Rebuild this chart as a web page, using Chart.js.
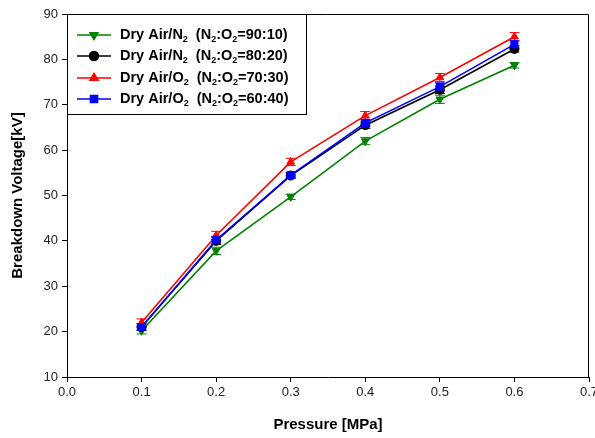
<!DOCTYPE html>
<html>
<head>
<meta charset="utf-8">
<script src="https://cdn.jsdelivr.net/npm/chart.js@4.4.1/dist/chart.umd.min.js"></script>
<style>
  html, body { margin:0; padding:0; background:#fff; }
  #wrap { width:595px; height:438px; position:relative; }
</style>
</head>
<body>
<div id="wrap"><canvas id="chart"></canvas></div>
<script>
  // Datos
  const pressure = [0.1, 0.2, 0.3, 0.4, 0.5, 0.6];
  const n2_90 = [20.2, 37.8, 49.7, 62.0, 71.2, 78.7];
  const n2_80 = [21.0, 40.0, 54.4, 65.5, 73.3, 82.3];
  const o2_70 = [22.0, 41.2, 57.4, 67.6, 76.0, 85.0];
  const o2_60 = [21.0, 40.2, 54.5, 66.0, 74.0, 83.3];
  const err_90 = [0.7, 0.8, 0.6, 0.8, 0.9, 0.6];
  const err_80 = [0.7, 0.8, 0.6, 0.7, 0.8, 0.7];
  const err_70 = [0.8, 0.9, 0.8, 0.9, 0.9, 0.9];
  const err_60 = [0.7, 0.8, 0.6, 0.8, 0.8, 0.8];
  const legendNames = [
    ['Dry Air/N', '(N', ':O', '=90:10)'],
    ['Dry Air/N', '(N', ':O', '=80:20)'],
    ['Dry Air/O', '(N', ':O', '=70:30)'],
    ['Dry Air/O', '(N', ':O', '=60:40)']
  ];

  const FONT = '"Liberation Sans", Arial, sans-serif';

  function serie(vals, errs, color, style, rot, order){
    return {
      data: pressure.map((x,i)=>({ x, y: vals[i] })),
      errs,
      borderColor: color,
      backgroundColor: color,
      borderWidth: 1.6,
      pointStyle: style,
      pointRotation: rot,
      pointRadius: style==='rect' ? 5 : 4.5,
      pointBorderWidth: 1,
      order
    };
  }

  const datasets = [
    serie(n2_90, err_90, '#008000', 'triangle', 180, 3),
    serie(n2_80, err_80, '#000000', 'circle', 0, 2),
    serie(o2_70, err_70, '#ff0000', 'triangle', 0, 1),
    serie(o2_60, err_60, '#0000ff', 'rect', 0, 0)
  ];

  // Barras de error
  const errorBars = {
    id:'errorBars',
    beforeDatasetsDraw(chart){
      const {ctx, scales:{x, y}} = chart;
      ctx.save();
      chart.data.datasets.forEach(ds=>{
        ctx.strokeStyle = ds.borderColor;
        ctx.lineWidth = 1;
        ds.data.forEach((p,i)=>{
          const px = x.getPixelForValue(p.x);
          const y1 = y.getPixelForValue(p.y + ds.errs[i]);
          const y2 = y.getPixelForValue(p.y - ds.errs[i]);
          ctx.beginPath();
          ctx.moveTo(px, y1); ctx.lineTo(px, y2);
          ctx.moveTo(px-5, y1); ctx.lineTo(px+5, y1);
          ctx.moveTo(px-5, y2); ctx.lineTo(px+5, y2);
          ctx.stroke();
        });
      });
      ctx.restore();
    }
  };

  // Marco y leyenda dentro del area
  const frameLegend = {
    id:'frameLegend',
    afterDraw(chart){
      const {ctx, chartArea:a} = chart;
      ctx.save();
      ctx.strokeStyle = '#000';
      ctx.lineWidth = 1;
      ctx.beginPath();
      ctx.moveTo(a.left, a.top+0.5); ctx.lineTo(a.right-0.5, a.top+0.5);
      ctx.lineTo(a.right-0.5, a.bottom);
      ctx.stroke();

      const bx = a.left, by = a.top, bw = 239, bh = 100;
      ctx.strokeRect(bx+0.5, by+0.5, bw, bh);

      const rows = [35, 56, 78, 99];
      chart.data.datasets.forEach((ds,i)=>{
        const cy = rows[i];
        ctx.strokeStyle = ds.borderColor;
        ctx.lineWidth = 1.6;
        ctx.beginPath(); ctx.moveTo(77, cy); ctx.lineTo(111, cy); ctx.stroke();
        ctx.fillStyle = ds.borderColor;
        Chart.helpers.drawPoint(ctx, {
          pointStyle: ds.pointStyle, rotation: ds.pointRotation,
          radius: ds.pointRadius, borderWidth: 1
        }, 94, cy);
        ctx.fill();

        const t = legendNames[i];
        ctx.fillStyle = '#000';
        ctx.textBaseline = 'middle';
        let x = 120;
        const big = 'bold 14.5px ' + FONT, sub = 'bold 9px ' + FONT;
        const put = (s, f, dy) => { ctx.font = f; ctx.fillText(s, x, cy + dy); x += ctx.measureText(s).width; };
        put(t[0], big, 0); put('2', sub, 5);
        x += 8;
        put(t[1], big, 0); put('2', sub, 5);
        put(t[2], big, 0); put('2', sub, 5);
        put(t[3], big, 0);
      });
      ctx.restore();
    }
  };

  new Chart(document.getElementById('chart'), {
    type:'line',
    data:{ datasets },
    options:{
      responsive:true,
      maintainAspectRatio:false,
      animation:false,
      layout:{ padding:{ top:14, right:0, left:0, bottom:0 } },
      plugins:{ legend:{ display:false }, tooltip:{ enabled:false } },
      scales:{
        x:{
          type:'linear', min:0, max:0.7,
          afterFit(s){ s.height = 61; s.paddingRight = 0; s.paddingLeft = 0; },
          grid:{ drawOnChartArea:false, drawTicks:true, tickLength:5, color:'#000' },
          border:{ color:'#000', width:1 },
          ticks:{ stepSize:0.1, color:'#222', font:{ family:FONT, size:13 }, padding:3,
                  callback:v=>v.toFixed(1) },
          title:{ display:true, text:'Pressure [MPa]', color:'#000',
                  font:{ family:FONT, size:15, weight:'bold' }, padding:{ top:16 } }
        },
        y:{
          min:10, max:90,
          afterFit(s){ s.width = 67; },
          grid:{ drawOnChartArea:false, drawTicks:true, tickLength:5, color:'#000' },
          border:{ color:'#000', width:1 },
          ticks:{ stepSize:10, color:'#222', font:{ family:FONT, size:13 }, padding:4 },
          title:{ display:true, text:'Breakdown Voltage[kV]', color:'#000',
                  font:{ family:FONT, size:15, weight:'bold' }, padding:{ top:9, bottom:2 } }
        }
      }
    },
    plugins:[errorBars, frameLegend]
  });
</script>
</body>
</html>
